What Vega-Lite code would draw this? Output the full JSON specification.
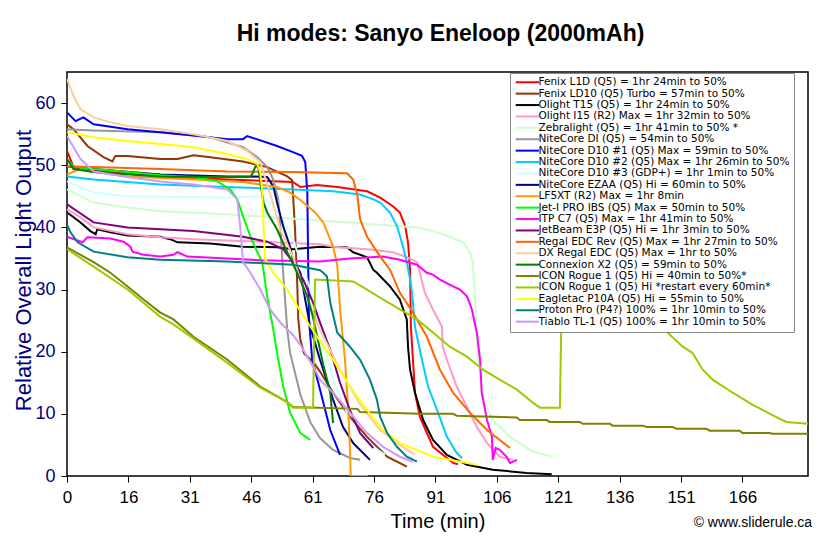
{
  "$schema": "https://vega.github.io/schema/vega-lite/v6.json",
  "width": 741,
  "height": 404,
  "autosize": {"type": "none"},
  "padding": {"left": 67, "top": 72, "right": 21, "bottom": 67},
  "background": "white",
  "config": {"font": "Liberation Sans", "view": {"stroke": "#000", "strokeWidth": 1.5}},
  "title": {"text": "Hi modes: Sanyo Eneloop (2000mAh)", "fontSize": 23, "fontWeight": "bold", "color": "#000", "anchor": "middle", "offset": 26, "dx": 3},
  "datasets": {
    "names": [
      {"k": "A", "s": "Fenix L1D (Q5) = 1hr 24min to 50%"},
      {"k": "B", "s": "Fenix LD10 (Q5) Turbo = 57min to 50%"},
      {"k": "C", "s": "Olight T15 (Q5) = 1hr 24min to 50%"},
      {"k": "D", "s": "Olight I15 (R2) Max = 1hr 32min to 50%"},
      {"k": "E", "s": "Zebralight (Q5) = 1hr 41min to 50% *"},
      {"k": "F", "s": "NiteCore DI (Q5) = 54min to 50%"},
      {"k": "G", "s": "NiteCore D10 #1 (Q5) Max = 59min to 50%"},
      {"k": "H", "s": "NiteCore D10 #2 (Q5) Max = 1hr 26min to 50%"},
      {"k": "I", "s": "NiteCore D10 #3 (GDP+) = 1hr 1min to 50%"},
      {"k": "J", "s": "NiteCore EZAA (Q5) Hi = 60min to 50%"},
      {"k": "K", "s": "LF5XT (R2) Max = 1hr 8min"},
      {"k": "L", "s": "Jet-I PRO IBS (Q5) Max = 50min to 50%"},
      {"k": "M", "s": "ITP C7 (Q5) Max = 1hr 41min to 50%"},
      {"k": "N", "s": "JetBeam E3P (Q5) Hi = 1hr 3min to 50%"},
      {"k": "O", "s": "Regal EDC Rev (Q5) Max = 1hr 27min to 50%"},
      {"k": "P", "s": "DX Regal EDC (Q5) Max = 1hr to 50%"},
      {"k": "Q", "s": "Connexion X2 (Q5) = 59min to 50%"},
      {"k": "R", "s": "ICON Rogue 1 (Q5) Hi = 40min to 50%*"},
      {"k": "S", "s": "ICON Rogue 1 (Q5) Hi *restart every 60min*"},
      {"k": "T", "s": "Eagletac P10A (Q5) Hi = 55min to 50%"},
      {"k": "U", "s": "Proton Pro (P4?) 100% = 1hr 10min to 50%"},
      {"k": "V", "s": "Tiablo TL-1 (Q5) 100% = 1hr 10min to 50%"}
    ],
    "pts": [
      {"k":"A","t":1,"v":52.3},{"k":"A","t":2.6,"v":49.7},{"k":"A","t":9.2,"v":49.0},{"k":"A","t":23.8,"v":48.2},{"k":"A","t":40.2,"v":47.7},{"k":"A","t":56.2,"v":47.3},{"k":"A","t":58.0,"v":46.5},{"k":"A","t":62.1,"v":46.8},{"k":"A","t":67.0,"v":46.5},{"k":"A","t":74.3,"v":45.8},{"k":"A","t":77.5,"v":44.8},{"k":"A","t":80.6,"v":43.4},{"k":"A","t":82.3,"v":42.4},{"k":"A","t":83.6,"v":40.2},{"k":"A","t":84.3,"v":37.6},{"k":"A","t":84.8,"v":33.2},{"k":"A","t":85.0,"v":24.0},{"k":"A","t":86.0,"v":13.4},{"k":"A","t":87.2,"v":9.5},{"k":"A","t":90.4,"v":4.7},{"k":"A","t":95.3,"v":2.1},{"k":"A","t":96.5,"v":1.9},
      {"k":"B","t":1,"v":56.6},{"k":"B","t":2.6,"v":55.8},{"k":"B","t":6.0,"v":53.1},{"k":"B","t":9.9,"v":51.3},{"k":"B","t":12.1,"v":50.6},{"k":"B","t":12.8,"v":51.5},{"k":"B","t":15.8,"v":51.5},{"k":"B","t":23.8,"v":51.0},{"k":"B","t":28.0,"v":51.0},{"k":"B","t":31.9,"v":51.6},{"k":"B","t":36.0,"v":51.3},{"k":"B","t":44.0,"v":50.6},{"k":"B","t":49.9,"v":49.7},{"k":"B","t":54.8,"v":48.2},{"k":"B","t":56.0,"v":47.6},{"k":"B","t":56.7,"v":39.7},{"k":"B","t":57.2,"v":31.6},{"k":"B","t":57.5,"v":25.2},{"k":"B","t":58.0,"v":21.9},{"k":"B","t":58.9,"v":19.7},{"k":"B","t":61.1,"v":18.4},{"k":"B","t":62.8,"v":16.8},{"k":"B","t":66.0,"v":13.4},{"k":"B","t":70.1,"v":9.5},{"k":"B","t":74.3,"v":6.3},{"k":"B","t":79.2,"v":3.1},{"k":"B","t":84.0,"v":1.5},
      {"k":"C","t":1,"v":42.4},{"k":"C","t":2.3,"v":41.8},{"k":"C","t":4.3,"v":40.8},{"k":"C","t":6.7,"v":39.4},{"k":"C","t":8.0,"v":38.9},{"k":"C","t":8.4,"v":39.7},{"k":"C","t":11.6,"v":39.2},{"k":"C","t":15.8,"v":38.7},{"k":"C","t":23.8,"v":38.5},{"k":"C","t":26.2,"v":38.1},{"k":"C","t":28.0,"v":37.6},{"k":"C","t":36.0,"v":37.4},{"k":"C","t":44.0,"v":36.9},{"k":"C","t":52.3,"v":36.8},{"k":"C","t":56.2,"v":36.5},{"k":"C","t":62.8,"v":36.9},{"k":"C","t":69.4,"v":36.8},{"k":"C","t":70.9,"v":36.0},{"k":"C","t":74.3,"v":35.2},{"k":"C","t":75.8,"v":33.2},{"k":"C","t":76.7,"v":32.7},{"k":"C","t":79.9,"v":30.5},{"k":"C","t":82.3,"v":28.4},{"k":"C","t":84.0,"v":25.2},{"k":"C","t":84.3,"v":20.8},{"k":"C","t":84.8,"v":17.1},{"k":"C","t":86.0,"v":13.4},{"k":"C","t":88.0,"v":9.0},{"k":"C","t":90.4,"v":5.8},{"k":"C","t":93.8,"v":3.4},{"k":"C","t":98.7,"v":1.8},{"k":"C","t":105.0,"v":1.0},{"k":"C","t":113.3,"v":0.5},{"k":"C","t":119.4,"v":0.3},
      {"k":"D","t":1,"v":42.9},{"k":"D","t":4.3,"v":41.6},{"k":"D","t":7.5,"v":40.0},{"k":"D","t":15.8,"v":38.9},{"k":"D","t":23.8,"v":38.4},{"k":"D","t":31.9,"v":38.1},{"k":"D","t":48.2,"v":37.7},{"k":"D","t":62.8,"v":37.3},{"k":"D","t":66.0,"v":36.9},{"k":"D","t":74.3,"v":36.5},{"k":"D","t":80.6,"v":36.0},{"k":"D","t":84.0,"v":35.2},{"k":"D","t":86.5,"v":34.4},{"k":"D","t":87.2,"v":32.7},{"k":"D","t":88.4,"v":29.5},{"k":"D","t":90.4,"v":26.8},{"k":"D","t":92.6,"v":24.0},{"k":"D","t":92.8,"v":20.8},{"k":"D","t":93.8,"v":18.7},{"k":"D","t":96.2,"v":14.4},{"k":"D","t":98.7,"v":11.1},{"k":"D","t":101.1,"v":7.9},{"k":"D","t":103.6,"v":5.3},{"k":"D","t":106.7,"v":3.1},{"k":"D","t":109.9,"v":2.6},
      {"k":"E","t":1,"v":46.1},{"k":"E","t":7.5,"v":44.0},{"k":"E","t":15.8,"v":43.2},{"k":"E","t":23.8,"v":42.6},{"k":"E","t":40.2,"v":42.1},{"k":"E","t":62.8,"v":41.1},{"k":"E","t":74.3,"v":40.6},{"k":"E","t":82.3,"v":40.2},{"k":"E","t":86.5,"v":40.0},{"k":"E","t":90.4,"v":39.4},{"k":"E","t":94.5,"v":38.5},{"k":"E","t":97.7,"v":37.6},{"k":"E","t":99.4,"v":36.1},{"k":"E","t":100.1,"v":34.4},{"k":"E","t":100.6,"v":29.5},{"k":"E","t":101.4,"v":18.7},{"k":"E","t":102.6,"v":12.3},{"k":"E","t":105.0,"v":9.0},{"k":"E","t":109.2,"v":6.3},{"k":"E","t":114.8,"v":3.9},{"k":"E","t":119.7,"v":3.1},
      {"k":"F","t":1,"v":55.8},{"k":"F","t":7.5,"v":55.6},{"k":"F","t":23.8,"v":55.3},{"k":"F","t":36.0,"v":54.5},{"k":"F","t":44.0,"v":52.9},{"k":"F","t":47.5,"v":51.3},{"k":"F","t":49.9,"v":49.7},{"k":"F","t":51.4,"v":47.7},{"k":"F","t":52.6,"v":44.5},{"k":"F","t":53.1,"v":40.2},{"k":"F","t":53.6,"v":34.8},{"k":"F","t":53.8,"v":32.7},{"k":"F","t":54.8,"v":23.5},{"k":"F","t":55.5,"v":19.8},{"k":"F","t":58.0,"v":13.1},{"k":"F","t":60.4,"v":8.7},{"k":"F","t":62.8,"v":6.1},{"k":"F","t":66.0,"v":4.2},{"k":"F","t":70.1,"v":2.9},{"k":"F","t":72.6,"v":2.6},
      {"k":"G","t":1,"v":58.5},{"k":"G","t":3.1,"v":57.1},{"k":"G","t":5.0,"v":57.7},{"k":"G","t":7.5,"v":56.6},{"k":"G","t":15.8,"v":55.8},{"k":"G","t":23.8,"v":55.3},{"k":"G","t":31.9,"v":54.8},{"k":"G","t":40.2,"v":54.2},{"k":"G","t":44.0,"v":54.2},{"k":"G","t":45.0,"v":54.7},{"k":"G","t":52.3,"v":53.1},{"k":"G","t":56.2,"v":52.1},{"k":"G","t":58.4,"v":51.5},{"k":"G","t":59.2,"v":50.5},{"k":"G","t":59.7,"v":45.6},{"k":"G","t":59.9,"v":34.8},{"k":"G","t":60.1,"v":25.2},{"k":"G","t":60.9,"v":18.7},{"k":"G","t":62.8,"v":13.9},{"k":"G","t":65.3,"v":7.4},{"k":"G","t":67.7,"v":3.4},
      {"k":"H","t":1,"v":48.2},{"k":"H","t":7.5,"v":47.7},{"k":"H","t":23.8,"v":46.9},{"k":"H","t":40.2,"v":46.5},{"k":"H","t":56.2,"v":46.1},{"k":"H","t":66.0,"v":45.8},{"k":"H","t":72.6,"v":45.3},{"k":"H","t":75.8,"v":44.5},{"k":"H","t":77.5,"v":44.0},{"k":"H","t":79.9,"v":42.4},{"k":"H","t":81.6,"v":40.2},{"k":"H","t":83.1,"v":36.9},{"k":"H","t":84.0,"v":34.4},{"k":"H","t":84.8,"v":31.6},{"k":"H","t":85.3,"v":29.5},{"k":"H","t":86.0,"v":24.0},{"k":"H","t":87.7,"v":18.7},{"k":"H","t":89.2,"v":14.4},{"k":"H","t":91.4,"v":10.6},{"k":"H","t":93.8,"v":6.3},{"k":"H","t":96.2,"v":3.7},{"k":"H","t":97.5,"v":2.9},
      {"k":"I","t":1,"v":47.4},{"k":"I","t":7.5,"v":45.6},{"k":"I","t":15.8,"v":45.0},{"k":"I","t":40.2,"v":44.8},{"k":"I","t":48.2,"v":45.0},{"k":"I","t":50.6,"v":44.0},{"k":"I","t":53.1,"v":41.8},{"k":"I","t":55.5,"v":39.2},{"k":"I","t":58.0,"v":34.8},{"k":"I","t":60.4,"v":30.0},{"k":"I","t":62.8,"v":23.5},{"k":"I","t":66.0,"v":15.5},{"k":"I","t":70.1,"v":9.0},{"k":"I","t":75.0,"v":5.0},{"k":"I","t":78.7,"v":3.4},
      {"k":"J","t":1,"v":49.8},{"k":"J","t":7.5,"v":49.4},{"k":"J","t":23.8,"v":48.5},{"k":"J","t":40.2,"v":48.2},{"k":"J","t":45.8,"v":48.2},{"k":"J","t":49.9,"v":48.1},{"k":"J","t":51.4,"v":46.6},{"k":"J","t":52.3,"v":44.0},{"k":"J","t":53.8,"v":40.2},{"k":"J","t":55.5,"v":36.9},{"k":"J","t":56.2,"v":34.8},{"k":"J","t":58.0,"v":32.7},{"k":"J","t":60.4,"v":24.0},{"k":"J","t":62.8,"v":18.7},{"k":"J","t":66.0,"v":12.3},{"k":"J","t":68.4,"v":7.9},{"k":"J","t":70.9,"v":5.3},{"k":"J","t":75.0,"v":2.6},
      {"k":"K","t":1,"v":48.5},{"k":"K","t":4.3,"v":49.4},{"k":"K","t":7.5,"v":48.9},{"k":"K","t":15.8,"v":48.2},{"k":"K","t":31.9,"v":47.7},{"k":"K","t":44.0,"v":47.3},{"k":"K","t":52.3,"v":46.5},{"k":"K","t":55.5,"v":45.6},{"k":"K","t":58.0,"v":44.4},{"k":"K","t":61.6,"v":42.4},{"k":"K","t":63.6,"v":40.8},{"k":"K","t":66.0,"v":36.9},{"k":"K","t":67.0,"v":34.0},{"k":"K","t":67.7,"v":26.8},{"k":"K","t":68.9,"v":18.7},{"k":"K","t":69.7,"v":10.6},{"k":"K","t":70.1,"v":4.7},{"k":"K","t":70.3,"v":0},{"k":"K","t":74.5,"v":0},
      {"k":"L","t":1,"v":51.0},{"k":"L","t":2.6,"v":49.8},{"k":"L","t":7.5,"v":49.4},{"k":"L","t":15.8,"v":48.9},{"k":"L","t":23.8,"v":48.4},{"k":"L","t":31.9,"v":48.1},{"k":"L","t":37.7,"v":47.4},{"k":"L","t":40.9,"v":46.1},{"k":"L","t":42.6,"v":44.5},{"k":"L","t":44.0,"v":41.8},{"k":"L","t":45.8,"v":38.5},{"k":"L","t":47.5,"v":36.0},{"k":"L","t":48.7,"v":34.4},{"k":"L","t":49.9,"v":28.9},{"k":"L","t":51.4,"v":23.5},{"k":"L","t":52.3,"v":19.8},{"k":"L","t":53.8,"v":14.4},{"k":"L","t":55.5,"v":10.2},{"k":"L","t":58.0,"v":6.9},{"k":"L","t":60.4,"v":5.8},
      {"k":"M","t":1,"v":38.5},{"k":"M","t":4.8,"v":37.6},{"k":"M","t":6.0,"v":38.4},{"k":"M","t":11.6,"v":38.2},{"k":"M","t":14.8,"v":37.7},{"k":"M","t":16.5,"v":36.9},{"k":"M","t":17.0,"v":36.1},{"k":"M","t":19.7,"v":35.6},{"k":"M","t":23.8,"v":35.3},{"k":"M","t":27.0,"v":35.6},{"k":"M","t":28.0,"v":36.0},{"k":"M","t":30.4,"v":35.3},{"k":"M","t":40.2,"v":35.0},{"k":"M","t":48.2,"v":34.7},{"k":"M","t":62.8,"v":34.5},{"k":"M","t":70.1,"v":35.0},{"k":"M","t":78.2,"v":35.3},{"k":"M","t":82.3,"v":34.8},{"k":"M","t":86.5,"v":34.0},{"k":"M","t":88.9,"v":32.7},{"k":"M","t":90.4,"v":32.4},{"k":"M","t":92.1,"v":31.6},{"k":"M","t":95.3,"v":30.5},{"k":"M","t":97.0,"v":30.0},{"k":"M","t":98.7,"v":28.9},{"k":"M","t":99.9,"v":26.8},{"k":"M","t":101.1,"v":23.1},{"k":"M","t":101.9,"v":18.7},{"k":"M","t":102.3,"v":13.4},{"k":"M","t":103.6,"v":9.0},{"k":"M","t":104.8,"v":6.3},{"k":"M","t":105.0,"v":2.6},{"k":"M","t":105.7,"v":4.5},{"k":"M","t":106.7,"v":4.2},{"k":"M","t":108.4,"v":3.1},{"k":"M","t":109.2,"v":2.1},{"k":"M","t":110.9,"v":2.6},
      {"k":"N","t":1,"v":43.7},{"k":"N","t":7.5,"v":40.8},{"k":"N","t":15.8,"v":40.0},{"k":"N","t":31.9,"v":39.4},{"k":"N","t":44.0,"v":38.5},{"k":"N","t":49.9,"v":37.7},{"k":"N","t":53.8,"v":36.5},{"k":"N","t":56.2,"v":34.4},{"k":"N","t":58.7,"v":31.6},{"k":"N","t":61.1,"v":27.9},{"k":"N","t":62.8,"v":24.7},{"k":"N","t":65.3,"v":20.3},{"k":"N","t":67.7,"v":15.0},{"k":"N","t":70.1,"v":10.6},{"k":"N","t":72.6,"v":6.9},{"k":"N","t":75.8,"v":4.5},
      {"k":"O","t":1,"v":49.8},{"k":"O","t":7.5,"v":49.7},{"k":"O","t":23.8,"v":49.4},{"k":"O","t":40.2,"v":49.0},{"k":"O","t":56.2,"v":48.9},{"k":"O","t":69.4,"v":48.7},{"k":"O","t":70.9,"v":47.7},{"k":"O","t":71.9,"v":45.3},{"k":"O","t":72.6,"v":41.3},{"k":"O","t":74.3,"v":38.5},{"k":"O","t":77.5,"v":35.3},{"k":"O","t":79.9,"v":33.2},{"k":"O","t":82.3,"v":29.5},{"k":"O","t":85.5,"v":26.3},{"k":"O","t":88.9,"v":22.4},{"k":"O","t":92.1,"v":17.1},{"k":"O","t":95.3,"v":13.4},{"k":"O","t":99.4,"v":10.2},{"k":"O","t":103.6,"v":7.4},{"k":"O","t":106.7,"v":5.8},{"k":"O","t":109.2,"v":4.5},
      {"k":"P","t":1,"v":63.9},{"k":"P","t":2.6,"v":61.1},{"k":"P","t":4.3,"v":59.0},{"k":"P","t":7.5,"v":57.7},{"k":"P","t":11.6,"v":56.9},{"k":"P","t":15.8,"v":56.3},{"k":"P","t":23.8,"v":55.8},{"k":"P","t":31.9,"v":55.0},{"k":"P","t":40.2,"v":53.9},{"k":"P","t":45.0,"v":52.3},{"k":"P","t":48.2,"v":50.5},{"k":"P","t":49.9,"v":46.9},{"k":"P","t":51.4,"v":43.7},{"k":"P","t":53.1,"v":39.7},{"k":"P","t":56.2,"v":35.3},{"k":"P","t":58.0,"v":31.6},{"k":"P","t":62.8,"v":23.5},{"k":"P","t":67.7,"v":17.1},{"k":"P","t":72.6,"v":11.5},{"k":"P","t":77.5,"v":7.4},{"k":"P","t":82.3,"v":5.0},{"k":"P","t":86.0,"v":3.4},
      {"k":"Q","t":1,"v":51.0},{"k":"Q","t":2.6,"v":49.4},{"k":"Q","t":7.5,"v":48.9},{"k":"Q","t":23.8,"v":48.2},{"k":"Q","t":40.2,"v":48.1},{"k":"Q","t":45.8,"v":48.1},{"k":"Q","t":46.5,"v":48.9},{"k":"Q","t":47.0,"v":49.8},{"k":"Q","t":47.7,"v":49.8},{"k":"Q","t":48.2,"v":47.3},{"k":"Q","t":49.0,"v":44.0},{"k":"Q","t":49.9,"v":42.4},{"k":"Q","t":52.3,"v":39.7},{"k":"Q","t":54.8,"v":36.0},{"k":"Q","t":57.2,"v":32.7},{"k":"Q","t":59.7,"v":28.9},{"k":"Q","t":61.1,"v":25.5},{"k":"Q","t":63.6,"v":17.9},{"k":"Q","t":65.3,"v":13.4},{"k":"Q","t":66.0,"v":8.5},
      {"k":"R","t":1,"v":36.8},{"k":"R","t":7.5,"v":34.4},{"k":"R","t":11.6,"v":32.7},{"k":"R","t":15.8,"v":30.5},{"k":"R","t":19.7,"v":28.4},{"k":"R","t":23.8,"v":26.3},{"k":"R","t":27.0,"v":25.2},{"k":"R","t":31.9,"v":22.4},{"k":"R","t":40.2,"v":18.7},{"k":"R","t":48.2,"v":14.4},{"k":"R","t":54.8,"v":11.9},{"k":"R","t":56.2,"v":11.1},{"k":"R","t":71.9,"v":10.8},{"k":"R","t":72.6,"v":10.3},{"k":"R","t":87.2,"v":10.0},{"k":"R","t":95.3,"v":10.0},{"k":"R","t":96.2,"v":9.7},{"k":"R","t":110.9,"v":9.4},{"k":"R","t":111.6,"v":9.0},{"k":"R","t":118.2,"v":9.0},{"k":"R","t":118.9,"v":8.7},{"k":"R","t":126.2,"v":8.7},{"k":"R","t":127.0,"v":8.4},{"k":"R","t":133.6,"v":8.4},{"k":"R","t":134.3,"v":8.1},{"k":"R","t":141.6,"v":8.1},{"k":"R","t":142.6,"v":7.9},{"k":"R","t":148.9,"v":7.9},{"k":"R","t":149.9,"v":7.6},{"k":"R","t":157.2,"v":7.6},{"k":"R","t":158.0,"v":7.3},{"k":"R","t":165.3,"v":7.3},{"k":"R","t":166.0,"v":6.9},{"k":"R","t":172.6,"v":6.9},{"k":"R","t":173.3,"v":6.8},{"k":"R","t":182,"v":6.8},
      {"k":"S","t":1,"v":36.5},{"k":"S","t":7.5,"v":33.7},{"k":"S","t":15.8,"v":30.0},{"k":"S","t":23.8,"v":25.6},{"k":"S","t":27.0,"v":24.4},{"k":"S","t":40.2,"v":18.2},{"k":"S","t":48.2,"v":14.2},{"k":"S","t":54.8,"v":11.9},{"k":"S","t":56.2,"v":11.0},{"k":"S","t":61.1,"v":11.0},{"k":"S","t":61.6,"v":31.6},{"k":"S","t":70.9,"v":31.3},{"k":"S","t":74.3,"v":30.0},{"k":"S","t":78.2,"v":28.4},{"k":"S","t":82.3,"v":26.8},{"k":"S","t":86.5,"v":25.2},{"k":"S","t":90.4,"v":23.1},{"k":"S","t":94.5,"v":20.8},{"k":"S","t":98.7,"v":19.2},{"k":"S","t":102.6,"v":17.1},{"k":"S","t":106.7,"v":15.5},{"k":"S","t":110.9,"v":13.9},{"k":"S","t":114.8,"v":11.8},{"k":"S","t":116.5,"v":11.0},{"k":"S","t":121.4,"v":11.0},{"k":"S","t":121.9,"v":31.3},{"k":"S","t":131.1,"v":30.5},{"k":"S","t":140.9,"v":27.6},{"k":"S","t":147.0,"v":23.5},{"k":"S","t":151.4,"v":20.8},{"k":"S","t":153.8,"v":19.8},{"k":"S","t":156.3,"v":17.1},{"k":"S","t":158.7,"v":15.5},{"k":"S","t":163.6,"v":13.4},{"k":"S","t":168.4,"v":11.5},{"k":"S","t":173.3,"v":9.8},{"k":"S","t":176.7,"v":8.7},{"k":"S","t":182,"v":8.4},
      {"k":"T","t":1,"v":55.3},{"k":"T","t":7.5,"v":54.5},{"k":"T","t":15.8,"v":53.9},{"k":"T","t":23.8,"v":53.4},{"k":"T","t":31.9,"v":52.9},{"k":"T","t":40.2,"v":51.8},{"k":"T","t":45.0,"v":51.0},{"k":"T","t":47.5,"v":50.2},{"k":"T","t":48.2,"v":48.9},{"k":"T","t":48.7,"v":45.6},{"k":"T","t":49.0,"v":40.2},{"k":"T","t":49.4,"v":34.8},{"k":"T","t":49.9,"v":34.4},{"k":"T","t":51.4,"v":32.7},{"k":"T","t":54.8,"v":30.0},{"k":"T","t":58.0,"v":26.5},{"k":"T","t":62.1,"v":22.4},{"k":"T","t":66.0,"v":18.7},{"k":"T","t":70.1,"v":14.4},{"k":"T","t":74.3,"v":10.6},{"k":"T","t":78.2,"v":7.4},{"k":"T","t":82.3,"v":5.3},{"k":"T","t":86.5,"v":4.2},{"k":"T","t":90.4,"v":3.1},{"k":"T","t":94.5,"v":2.6},{"k":"T","t":98.7,"v":2.1},{"k":"T","t":101.1,"v":1.8},
      {"k":"U","t":1,"v":40.5},{"k":"U","t":1.85,"v":39.2},{"k":"U","t":3.6,"v":37.6},{"k":"U","t":7.5,"v":36.1},{"k":"U","t":15.8,"v":35.2},{"k":"U","t":23.8,"v":34.8},{"k":"U","t":40.2,"v":34.5},{"k":"U","t":56.2,"v":34.0},{"k":"U","t":62.8,"v":33.1},{"k":"U","t":63.6,"v":32.7},{"k":"U","t":64.5,"v":32.1},{"k":"U","t":65.3,"v":27.9},{"k":"U","t":67.0,"v":23.1},{"k":"U","t":70.1,"v":20.8},{"k":"U","t":72.6,"v":18.7},{"k":"U","t":75.0,"v":15.5},{"k":"U","t":76.7,"v":12.3},{"k":"U","t":77.5,"v":9.5},{"k":"U","t":79.2,"v":6.9},{"k":"U","t":81.6,"v":4.7},{"k":"U","t":84.0,"v":3.1},{"k":"U","t":86.5,"v":2.3},
      {"k":"V","t":1,"v":54.7},{"k":"V","t":4.3,"v":51.0},{"k":"V","t":7.5,"v":49.0},{"k":"V","t":15.8,"v":48.1},{"k":"V","t":23.8,"v":47.4},{"k":"V","t":31.9,"v":46.9},{"k":"V","t":40.2,"v":46.1},{"k":"V","t":42.6,"v":44.5},{"k":"V","t":43.3,"v":40.2},{"k":"V","t":43.8,"v":36.0},{"k":"V","t":44.0,"v":34.4},{"k":"V","t":45.8,"v":32.7},{"k":"V","t":48.2,"v":30.0},{"k":"V","t":50.6,"v":26.8},{"k":"V","t":53.1,"v":24.7},{"k":"V","t":56.2,"v":22.7},{"k":"V","t":58.0,"v":21.1},{"k":"V","t":61.1,"v":17.6},{"k":"V","t":62.8,"v":15.5},{"k":"V","t":66.0,"v":13.4},{"k":"V","t":70.1,"v":10.2},{"k":"V","t":74.3,"v":6.9},{"k":"V","t":78.2,"v":4.7},{"k":"V","t":82.3,"v":3.1},{"k":"V","t":85.5,"v":2.3}
    ]
  },
  "layer": [
    {
      "data": {"name": "pts"},
      "transform": [{"lookup": "k", "from": {"data": {"name": "names"}, "key": "k", "fields": ["s"]}}],
      "mark": {"type": "line", "strokeWidth": 2, "clip": true},
      "encoding": {
        "x": {
          "field": "t", "type": "quantitative",
          "scale": {"domain": [1, 182], "nice": false, "zero": false},
          "axis": {
            "values": [1,16,31,46,61,76,91,106,121,136,151,166],
            "labelExpr": "datum.value == 1 ? '0' : '' + datum.value",
            "grid": false, "domain": false, "tickSize": 6, "tickColor": "#000", "tickWidth": 1,
            "labelFontSize": 17, "labelColor": "#000", "labelPadding": 7, "labelFlush": false, "labelOverlap": false,
            "title": "Time (min)", "titleFontSize": 20, "titleFontWeight": "normal", "titleColor": "#000", "titlePadding": 6
          }
        },
        "y": {
          "field": "v", "type": "quantitative",
          "scale": {"domain": [0, 65], "nice": false},
          "axis": {
            "values": [0,5,10,15,20,25,30,35,40,45,50,55,60,65],
            "grid": false, "domain": false, "tickSize": 6, "tickColor": "#000", "tickWidth": 1,
            "labelFontSize": 18, "labelColor": "#000080", "labelPadding": 6,
            "title": "Relative Overall Light Output", "titleFontSize": 22, "titleFontWeight": "normal", "titleColor": "#000080",
            "titleAngle": 270, "titleAlign": "center", "titleBaseline": "middle", "titleX": -44, "titleY": 198
          }
        },
        "color": {
          "field": "s", "type": "nominal",
          "scale": {
            "domain": [
              "Fenix L1D (Q5) = 1hr 24min to 50%",
              "Fenix LD10 (Q5) Turbo = 57min to 50%",
              "Olight T15 (Q5) = 1hr 24min to 50%",
              "Olight I15 (R2) Max = 1hr 32min to 50%",
              "Zebralight (Q5) = 1hr 41min to 50% *",
              "NiteCore DI (Q5) = 54min to 50%",
              "NiteCore D10 #1 (Q5) Max = 59min to 50%",
              "NiteCore D10 #2 (Q5) Max = 1hr 26min to 50%",
              "NiteCore D10 #3 (GDP+) = 1hr 1min to 50%",
              "NiteCore EZAA (Q5) Hi = 60min to 50%",
              "LF5XT (R2) Max = 1hr 8min",
              "Jet-I PRO IBS (Q5) Max = 50min to 50%",
              "ITP C7 (Q5) Max = 1hr 41min to 50%",
              "JetBeam E3P (Q5) Hi = 1hr 3min to 50%",
              "Regal EDC Rev (Q5) Max = 1hr 27min to 50%",
              "DX Regal EDC (Q5) Max = 1hr to 50%",
              "Connexion X2 (Q5) = 59min to 50%",
              "ICON Rogue 1 (Q5) Hi = 40min to 50%*",
              "ICON Rogue 1 (Q5) Hi *restart every 60min*",
              "Eagletac P10A (Q5) Hi = 55min to 50%",
              "Proton Pro (P4?) 100% = 1hr 10min to 50%",
              "Tiablo TL-1 (Q5) 100% = 1hr 10min to 50%"
            ],
            "range": ["#FF0000","#993300","#000000","#FF99CC","#CCFFCC","#969696","#0000FF","#00CCFF","#CCFFFF","#000080","#FF9900","#00FF00","#FF00FF","#800080","#FF6600","#FFCC99","#008000","#808000","#99CC00","#FFFF00","#008080","#CC99FF"]
          },
          "legend": {
            "title": null, "orient": "none", "legendX": 443, "legendY": 1,
            "fillColor": "white", "strokeColor": "#888888", "padding": 4,
            "symbolType": "M-1,0H5.6", "symbolSize": 50, "symbolStrokeWidth": 2,
            "labelFont": "DejaVu Sans", "labelFontSize": 10.5, "labelColor": "#000", "labelLimit": 320, "labelOffset": 14,
            "rowPadding": 0.4, "symbolOpacity": 1
          }
        }
      }
    },
    {
      "data": {"values": [{"c": "© www.sliderule.ca"}]},
      "mark": {"type": "text", "align": "right", "baseline": "middle", "fontSize": 14, "color": "#000"},
      "encoding": {
        "text": {"field": "c"},
        "x": {"datum": 183},
        "y": {"datum": -7.6}
      }
    }
  ]
}
